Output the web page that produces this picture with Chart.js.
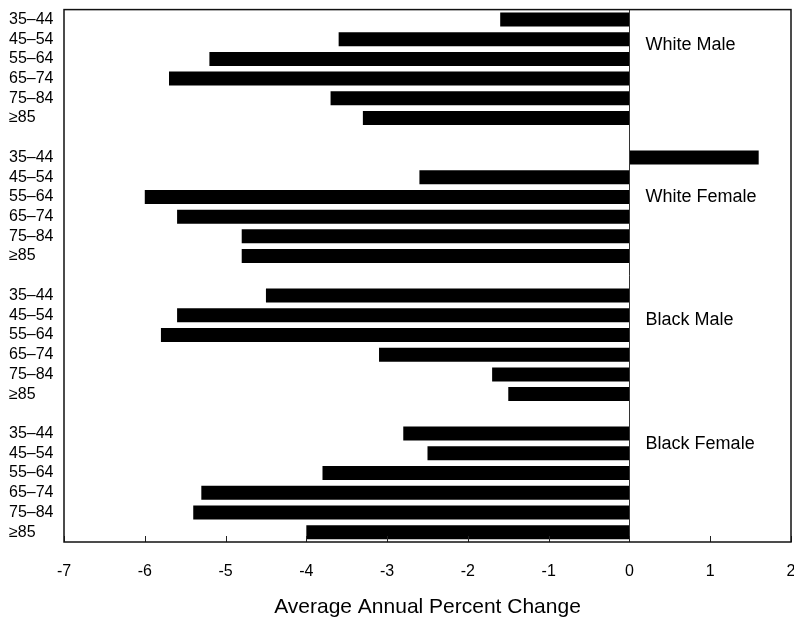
<!DOCTYPE html>
<html>
<head>
<meta charset="utf-8">
<script src="https://cdn.jsdelivr.net/npm/chart.js@4"></script>
<style>
  html, body { margin: 0; padding: 0; background: #fff; }
  #wrap { width: 794px; height: 620px; position: relative; }
</style>
</head>
<body>
<div id="wrap"><canvas id="c" width="794" height="620"></canvas></div>
<script>
const ageGroups = ['35\u201344', '45\u201354', '55\u201364', '65\u201374', '75\u201384', '\u226585'];
const groupNames = ['White Male', 'White Female', 'Black Male', 'Black Female'];
const whiteMale   = [-1.6, -3.6, -5.2, -5.7, -3.7, -3.3];
const whiteFemale = [ 1.6, -2.6, -6.0, -5.6, -4.8, -4.8];
const blackMale   = [-4.5, -5.6, -5.8, -3.1, -1.7, -1.5];
const blackFemale = [-2.8, -2.5, -3.8, -5.3, -5.4, -4.0];
const groupLabelRow = [1.29, 9.0, 15.25, 21.54];
const xTicks = [-7, -6, -5, -4, -3, -2, -1, 0, 1, 2];
const xTitle = 'Average Annual Percent Change';

const seriesList = [whiteMale, whiteFemale, blackMale, blackFemale];
const labels = [];
const values = [];
seriesList.forEach((s, gi) => {
  if (gi > 0) { labels.push(''); values.push(null); }
  ageGroups.forEach((a, i) => { labels.push(a); values.push(s[i]); });
});

const FONT = "'Liberation Sans', Arial, Helvetica, sans-serif";

const framePlugin = {
  id: 'frame',
  afterDraw(chart) {
    const {ctx, chartArea: a, scales} = chart;
    const x = scales.x, y = scales.y;
    ctx.save();
    // zero line
    ctx.strokeStyle = '#333';
    ctx.lineWidth = 1;
    const x0 = Math.round(x.getPixelForValue(0)) + 0.5;
    ctx.beginPath(); ctx.moveTo(x0, a.top); ctx.lineTo(x0, a.bottom); ctx.stroke();
    // inward ticks
    ctx.strokeStyle = '#222';
    ctx.lineWidth = 1;
    xTicks.forEach(v => {
      const px = Math.round(x.getPixelForValue(v)) + 0.5;
      ctx.beginPath(); ctx.moveTo(px, a.bottom); ctx.lineTo(px, a.bottom - 6); ctx.stroke();
    });
    // frame
    ctx.strokeStyle = '#111';
    ctx.lineWidth = 1.5;
    ctx.strokeRect(a.left, a.top, a.right - a.left, a.bottom - a.top);
    // group labels
    ctx.fillStyle = '#000';
    ctx.font = '18px ' + FONT;
    ctx.textAlign = 'left';
    ctx.textBaseline = 'middle';
    groupNames.forEach((g, i) => {
      ctx.fillText(g, x.getPixelForValue(0.2), y.getPixelForValue(groupLabelRow[i]));
    });
    ctx.restore();
  }
};

new Chart(document.getElementById('c'), {
  type: 'bar',
  data: {
    labels: labels,
    datasets: [{
      data: values,
      backgroundColor: '#000',
      borderWidth: 0,
      barPercentage: 0.71,
      categoryPercentage: 1.0
    }]
  },
  options: {
    indexAxis: 'y',
    responsive: false,
    animation: false,
    events: [],
    layout: { padding: { top: 9.6, right: 3, left: 9, bottom: 0 } },
    plugins: { legend: { display: false }, tooltip: { enabled: false } },
    scales: {
      x: {
        type: 'linear',
        min: -7, max: 2,
        afterBuildTicks(scale) { scale.ticks = xTicks.map(v => ({ value: v })); },
        afterFit(scale) { scale.height = 78; scale.paddingLeft = 0; scale.paddingRight = 0; },
        grid: { display: false, drawTicks: false },
        border: { display: false },
        ticks: {
          color: '#000',
          padding: 20,
          font: { family: FONT, size: 16 },
          callback: v => String(v)
        },
        title: {
          display: true,
          text: xTitle,
          color: '#000',
          padding: { top: 0, bottom: 0 },
          font: { family: FONT, size: 21 }
        }
      },
      y: {
        type: 'category',
        afterFit(scale) { scale.width = 55; scale.paddingTop = 0; scale.paddingBottom = 0; },
        grid: { display: false, drawTicks: false },
        border: { display: false },
        ticks: {
          color: '#000',
          padding: 10,
          autoSkip: false,
          crossAlign: 'far',
          font: { family: FONT, size: 16 }
        }
      }
    }
  },
  plugins: [framePlugin]
});
</script>
</body>
</html>
